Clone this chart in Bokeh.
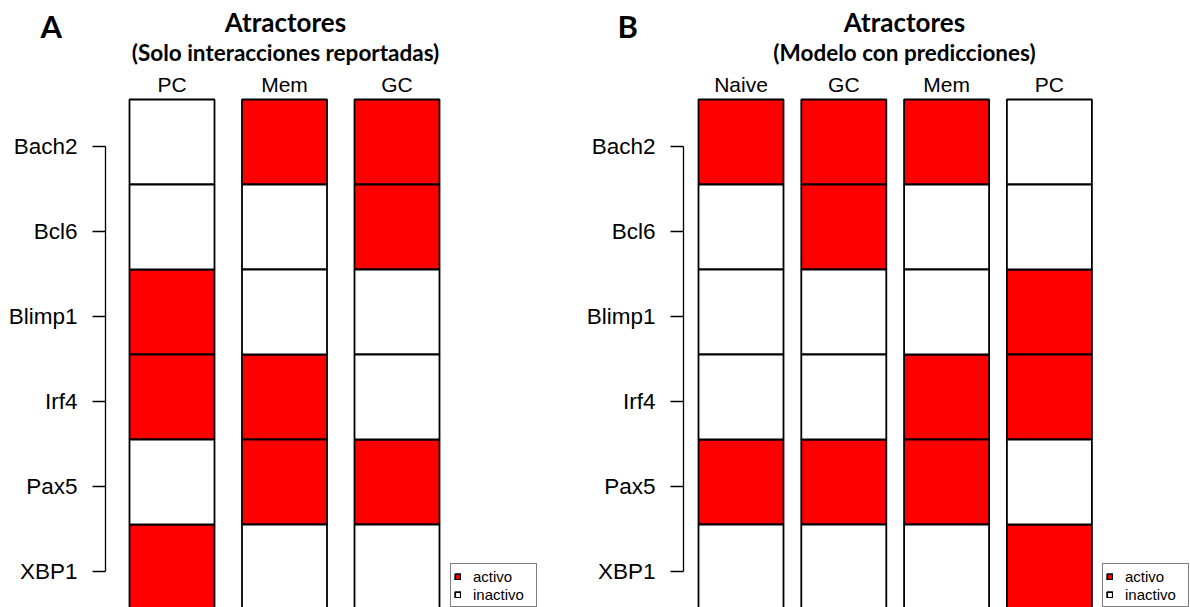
from bokeh.plotting import figure
from bokeh.layouts import row
from bokeh.models import (Range1d, FixedTicker, Label, Legend, LegendItem,
                          ColumnDataSource)
from bokeh.core.properties import value
from bokeh.embed import file_html
from bokeh.resources import INLINE

# ---------------- data ----------------
genes = ["Bach2", "Bcl6", "Blimp1", "Irf4", "Pax5", "XBP1"]

cols_a = ["PC", "Mem", "GC"]
pc_a = [0, 0, 1, 1, 0, 1]
mem_a = [1, 0, 0, 1, 1, 0]
gc_a = [1, 1, 0, 0, 1, 0]
states_a = [pc_a, mem_a, gc_a]

cols_b = ["Naive", "GC", "Mem", "PC"]
naive_b = [1, 0, 0, 0, 1, 0]
gc_b = [1, 1, 0, 0, 1, 0]
mem_b = [1, 0, 0, 1, 1, 0]
pc_b = [0, 0, 1, 1, 0, 1]
states_b = [naive_b, gc_b, mem_b, pc_b]

legend_labels = ["activo", "inactivo"]
on_color = "#FF0000"
off_color = "#FFFFFF"

# ---------------- layout constants (pixels) ----------------
FIG_H = 607
CELL_TOP = 99
ROW_PX = 85
CELL_W_PX = 85
TICK_SHIFT_PX = 4.5

AXIS_FONT = "Liberation Sans"
TITLE_FONT = "Lato"

# vertical centres (px from top) of the texts above the cells
TITLE_MID = 21
SUB_MID = 52
LETTER_MID = 25
COL_MID = 84


def make_panel(cols, states, fig_left, fig_right, spine_x, first_center,
               pitch, letter, title, subtitle, title_center, legend_left):
    n_rows = len(genes)
    y_top = (n_rows - 0.5) + CELL_TOP / ROW_PX
    y_bottom = y_top - FIG_H / ROW_PX
    x_start = (fig_left - first_center) / pitch
    x_end = (fig_right - first_center) / pitch

    p = figure(width=fig_right - fig_left, height=FIG_H,
               x_range=Range1d(x_start, x_end), y_range=Range1d(y_bottom, y_top),
               output_backend="svg", toolbar_location=None,
               min_border_left=0, min_border_right=0,
               min_border_top=0, min_border_bottom=0)
    p.title.visible = False
    p.outline_line_color = None
    p.grid.visible = False
    p.xaxis.visible = False
    p.background_fill_color = "white"
    p.border_fill_color = "white"

    on_x, on_y, off_x, off_y = [], [], [], []
    for j, st in enumerate(states):
        for i, v in enumerate(st):
            yv = n_rows - 1 - i
            if v:
                on_x.append(j); on_y.append(yv)
            else:
                off_x.append(j); off_y.append(yv)
    w = CELL_W_PX / pitch
    r_on = p.rect(x="x", y="y", width=w, height=1,
                  source=ColumnDataSource(dict(x=on_x, y=on_y)),
                  fill_color=on_color, line_color="black", line_width=1.8)
    r_off = p.rect(x="x", y="y", width=w, height=1,
                   source=ColumnDataSource(dict(x=off_x, y=off_y)),
                   fill_color=off_color, line_color="black", line_width=1.8)

    # column labels above the cells
    label_y = y_top - COL_MID / ROW_PX
    p.text(x=list(range(len(cols))), y=[label_y] * len(cols), text=cols,
           text_font=value(AXIS_FONT), text_font_size=value("21px"),
           text_align="center", text_baseline="middle", text_color="black")

    # gene axis (left), drawn at a fixed position left of the first column
    shift = TICK_SHIFT_PX / ROW_PX
    ticks = [(n_rows - 1 - i) - shift for i in range(n_rows)]
    ya = p.yaxis[0]
    ya.fixed_location = (spine_x - first_center) / pitch
    ya.ticker = FixedTicker(ticks=ticks)
    ya.major_label_overrides = {t: g for t, g in zip(ticks, genes)}
    ya.bounds = (min(ticks), max(ticks))
    ya.axis_line_color = "black"
    ya.axis_line_width = 1.3
    ya.major_tick_line_color = "black"
    ya.major_tick_line_width = 1.3
    ya.major_tick_out = 13
    ya.major_tick_in = 0
    ya.minor_tick_line_color = None
    ya.minor_tick_out = 0
    ya.major_label_standoff = 15
    ya.major_label_text_font = AXIS_FONT
    ya.major_label_text_font_size = "22.5px"
    ya.major_label_text_color = "black"

    # titles and panel letter
    def lab(x_px, mid_px, text, size, align):
        p.add_layout(Label(x=x_px - fig_left, y=FIG_H - mid_px,
                           x_units="screen", y_units="screen", text=text,
                           text_align=align, text_baseline="middle",
                           text_font=TITLE_FONT, text_font_style="bold",
                           text_font_size=size, text_color="black"))
    lab(title_center, TITLE_MID, title, "26px", "center")
    lab(title_center, SUB_MID, subtitle, "22.5px", "center")
    lab(letter[1], LETTER_MID, letter[0], "31px", "left")

    legend = Legend(items=[LegendItem(label=legend_labels[0], renderers=[r_on]),
                           LegendItem(label=legend_labels[1], renderers=[r_off])],
                    location=(legend_left - fig_left, (FIG_H - 563) - 44))
    legend.border_line_color = "black"
    legend.border_line_width = 1
    legend.padding = 3
    legend.spacing = 0
    legend.margin = 0
    legend.glyph_width = 7
    legend.glyph_height = 7
    legend.label_standoff = 12
    legend.label_width = 60
    legend.label_height = 18
    legend.label_text_font = AXIS_FONT
    legend.label_text_font_size = "15px"
    legend.label_text_color = "black"
    legend.background_fill_alpha = 1.0
    p.add_layout(legend)
    return p


pa = make_panel(cols_a, states_a, fig_left=0, fig_right=575, spine_x=105,
                first_center=171.5, pitch=112.5, letter=("A", 40),
                title="Atractores", subtitle="(Solo interacciones reportadas)",
                title_center=285, legend_left=450)
pb = make_panel(cols_b, states_b, fig_left=575, fig_right=1190, spine_x=683,
                first_center=740.5, pitch=102.8, letter=("B", 617),
                title="Atractores", subtitle="(Modelo con predicciones)",
                title_center=904, legend_left=1102)

layout = row(pa, pb)
open("out.html", "w").write(file_html(layout, INLINE))
